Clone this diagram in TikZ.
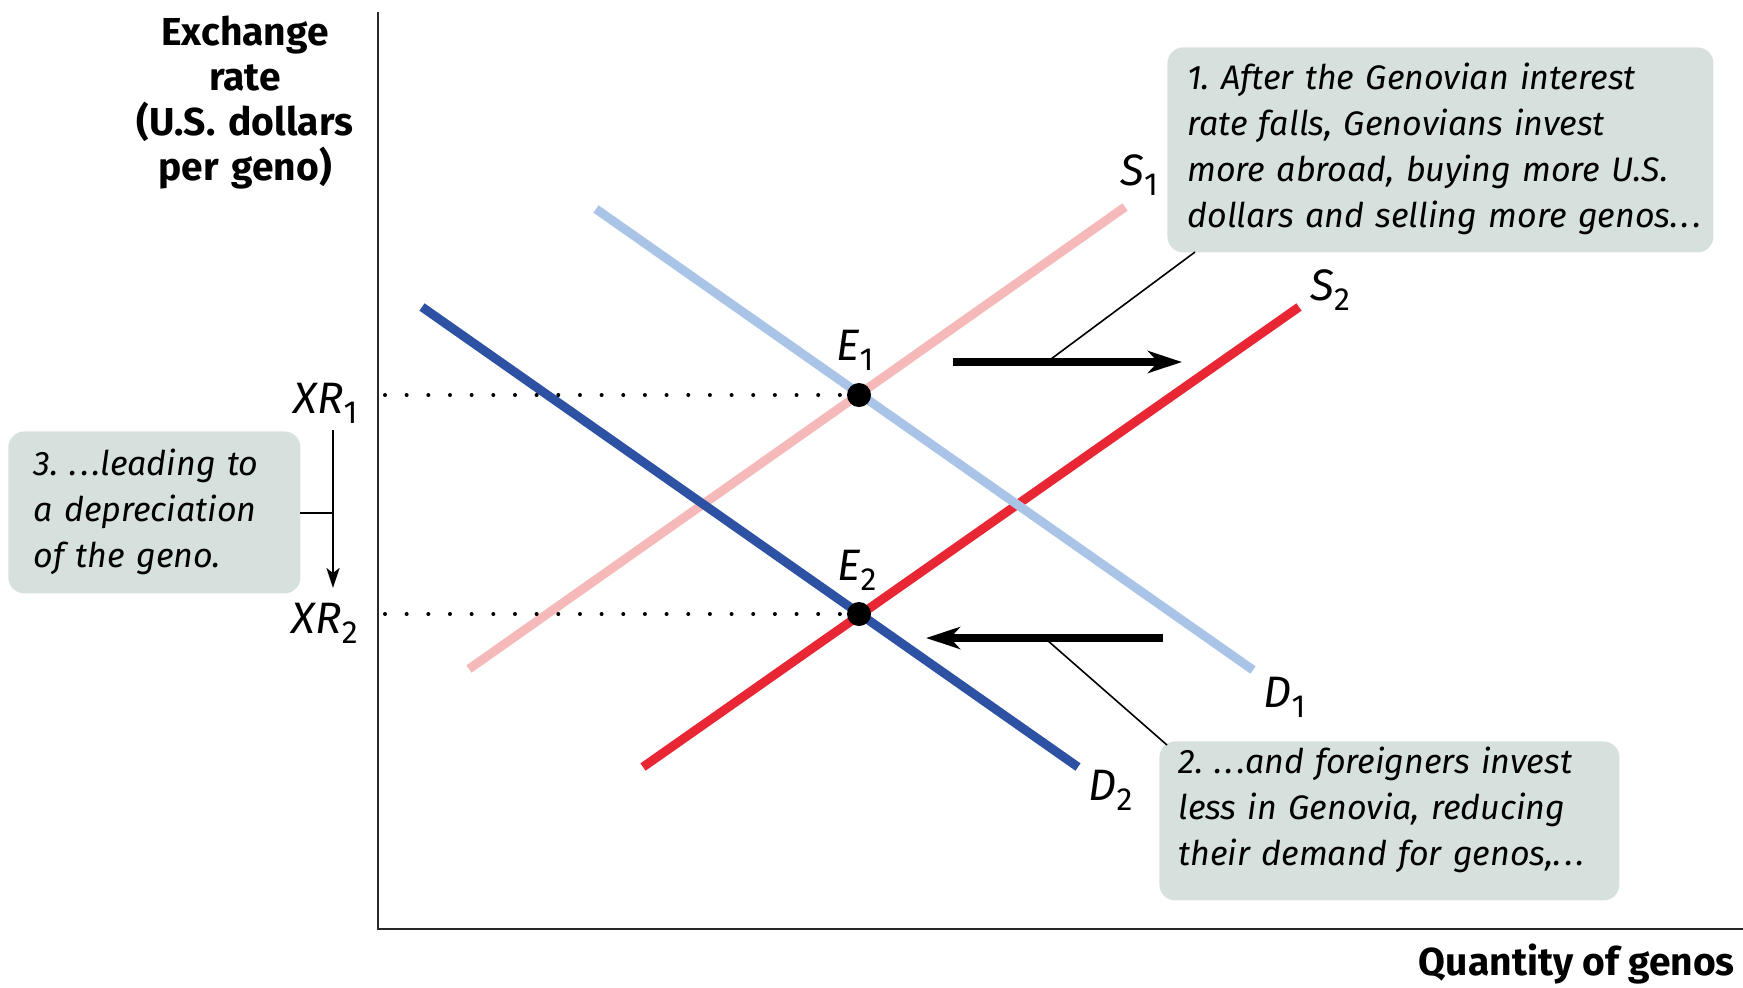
\documentclass[tikz,border=0pt]{standalone}
\usepackage{fontspec}
\setmainfont{Fira Sans}
\usetikzlibrary{arrows.meta}
\frenchspacing
\definecolor{pinkS}{RGB}{245,185,185}
\definecolor{lblue}{RGB}{169,196,230}
\definecolor{dblue}{RGB}{45,82,164}
\definecolor{redS}{RGB}{232,38,52}
\definecolor{boxfill}{RGB}{214,224,221}
\definecolor{axisgrey}{RGB}{40,40,40}
\newcommand\sublab[2]{\textit{#1}\raisebox{-5pt}{\fontsize{16}{16}\selectfont #2}}
\newcommand\eldots{.\kern1.6pt.\kern1.6pt.}
\begin{document}
\begin{tikzpicture}[x=0.5pt,y=-0.5pt,
  curve/.style={line width=4.5pt},
  lab/.style={font=\fontsize{22}{22}\selectfont, inner sep=0pt},
  eqdot/.style={circle, fill=black, minimum size=12pt, inner sep=0pt},
  dotline/.style={line width=2pt, line cap=round, dash pattern=on 0pt off 10.83pt},
  callbox/.style={fill=boxfill, rounded corners=8pt, inner sep=0pt, anchor=north west},
  calltext/.style={font=\fontsize{17}{23}\selectfont\itshape, align=left, inner sep=0pt, anchor=base west},
  axislab/.style={font=\fontsize{19.5}{22.5}\selectfont\bfseries, inner sep=0pt},
  shiftarrow/.style={line width=4pt, -{Stealth[length=17pt,width=11pt,inset=5pt]}},
  leader/.style={line width=0.8pt},
  thinarrow/.style={line width=1.2pt, -{Stealth[length=10pt,width=6.5pt,inset=2.5pt]}}
]
\useasboundingbox (0,0) rectangle (1743,987);

% axes
\coordinate (ytop) at (378,12);
\coordinate (orig) at (378,929);
\coordinate (xend) at (1743,929);
\draw[axisgrey, line width=1pt] (ytop) -- (orig) -- (xend);

\node[axislab, text width=150pt, align=center, anchor=base] (ylab) at (245,45)
  {Exchange\\rate\\(U.S. dollars\\per geno)};
\node[axislab, anchor=base east] (xlab) at (1735,975) {Quantity of genos};

% curves
\coordinate (s1a) at (469,669); \coordinate (s1b) at (1125,207);
\coordinate (s2a) at (643,767); \coordinate (s2b) at (1299,307);
\coordinate (d1a) at (596,209); \coordinate (d1b) at (1253,670);
\coordinate (d2a) at (422,307); \coordinate (d2b) at (1078,767);
\draw[curve, pinkS] (s1a) -- (s1b);
\draw[curve, redS] (s2a) -- (s2b);
\draw[curve, lblue] (d1a) -- (d1b);
\draw[curve, dblue] (d2a) -- (d2b);

\node[lab, anchor=base west] (S1) at (1120,185) {\sublab{S}{1}};
\node[lab, anchor=base west] (S2) at (1310,300) {\sublab{S}{2}};
\node[lab, anchor=base west] (D1) at (1263,707) {\sublab{D}{1}};
\node[lab, anchor=base west] (D2) at (1088,800) {\sublab{D}{2}};

% equilibria
\coordinate (xr1pt) at (378,395);
\coordinate (xr2pt) at (378,614);
\coordinate (e1c) at (859,395);
\coordinate (e2c) at (859,614);
\draw[dotline] (xr1pt) ++(7,0) -- (e1c);
\draw[dotline] (xr2pt) ++(7,0) -- (e2c);
\node[eqdot] (E1) at (e1c) {};
\node[eqdot] (E2) at (e2c) {};
\node[lab, anchor=base] (E1l) at (855,360) {\sublab{E}{1}};
\node[lab, anchor=base] (E2l) at (857,580) {\sublab{E}{2}};
\node[lab, anchor=base east] (XR1) at (358,413) {\sublab{XR}{1}};
\node[lab, anchor=base east] (XR2) at (358,633) {\sublab{XR}{2}};

% shift arrows
\coordinate (ra) at (953,362); \coordinate (rb) at (1182,362);
\coordinate (la) at (1163,638); \coordinate (lb) at (926,638);
\draw[shiftarrow] (ra) -- (rb);
\draw[shiftarrow] (la) -- (lb);

% callout 1
\node[callbox, minimum width=273pt, minimum height=102.5pt] (c1) at (1167,47) {};
\node[calltext, text width=265pt] (t1) at (1187,89)
  {1. After the Genovian interest\\rate falls, Genovians invest\\more abroad, buying more U.S.\\dollars and selling more genos\eldots};
\coordinate (c1lead) at (1195,252);
\coordinate (r1lead) at (1047,362);
\draw[leader] (c1lead) -- (r1lead);

% callout 2
\node[callbox, minimum width=230pt, minimum height=79.5pt] (c2) at (1159,741) {};
\node[calltext, text width=225pt] (t2) at (1178,773)
  {2. \eldots and foreigners invest\\less in Genovia, reducing\\their demand for genos,\eldots};
\coordinate (c2lead) at (1167,745);
\coordinate (l2lead) at (1047,640);
\draw[leader] (c2lead) -- (l2lead);

% callout 3
\node[callbox, minimum width=146pt, minimum height=81pt] (c3) at (8,431) {};
\node[calltext, text width=140pt] (t3) at (33,475)
  {3. \eldots leading to\\a depreciation\\of the geno.};
\coordinate (va) at (333,430); \coordinate (vb) at (333,588);
\draw[thinarrow] (va) -- (vb);
\coordinate (c3lead) at (300,513); \coordinate (vmid) at (333,513);
\draw[leader] (c3lead) -- (vmid);
\end{tikzpicture}
\end{document}
